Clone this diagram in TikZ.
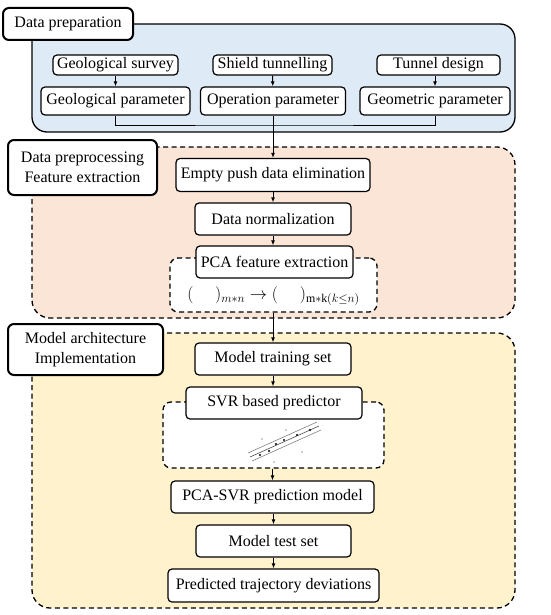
\documentclass[tikz,border=0pt]{standalone}
\usepackage{fontspec}
\setmainfont{Liberation Serif}
\usepackage{amsmath}
\usepackage{amssymb}
\usetikzlibrary{arrows.meta}
\definecolor{prepblue}{HTML}{DEEBF7}
\definecolor{procorange}{HTML}{FBE5D6}
\definecolor{modelyellow}{HTML}{FFF2CC}

\begin{document}
\begin{tikzpicture}[x=1pt,y=-1pt,
    every node/.style={inner sep=0pt,font=\fontsize{16}{20}\selectfont},
    stagebox/.style={draw,fill=white,line width=1.2pt,rounded corners=4pt},
    titlebox/.style={draw,fill=white,line width=2pt,rounded corners=6pt,align=center},
    dashbox/.style={draw,fill=white,line width=1.3pt,dash pattern=on 5pt off 3.5pt,rounded corners=8pt},
    panel/.style={draw,line width=1.3pt,rounded corners=18pt},
    arr/.style={-{Latex[length=5pt,width=4pt]},line width=1pt}]
	\useasboundingbox (0,0) rectangle (550,615);
	% panels
	\draw [panel,fill=prepblue,rounded corners=15pt] (32,24) rectangle (515,132);
	\draw [panel,fill=procorange,dash pattern=on 5pt off 3.5pt] (32,147) rectangle (515,318);
	\draw [panel,fill=modelyellow,dash pattern=on 5pt off 3.5pt] (32,333) rectangle (515,608);
	\node [titlebox,minimum width=130pt,minimum height=32pt] (lprep) at (68,24) {Data preparation};
	\node [titlebox,minimum width=149pt,minimum height=55pt] (lproc) at (82.5,167.5) {Data preprocessing\\Feature extraction};
	\node [titlebox,minimum width=155pt,minimum height=51pt] (lmodel) at (85.5,349.5) {Model architecture\\Implementation};
	% data preparation
	\node [stagebox,minimum width=125pt,minimum height=20pt] (geosur) at (115.5,65) {Geological survey};
	\node [stagebox,minimum width=119pt,minimum height=20pt] (shield) at (272.5,65) {Shield tunnelling};
	\node [stagebox,minimum width=123pt,minimum height=20pt] (tdesign) at (438.5,65) {Tunnel design};
	\node [stagebox,minimum width=149pt,minimum height=28pt] (geopar) at (115.5,101) {Geological parameter};
	\node [stagebox,minimum width=145pt,minimum height=28pt] (oppar) at (273,101) {Operation parameter};
	\node [stagebox,minimum width=150pt,minimum height=28pt] (geompar) at (435,101) {Geometric parameter};
	\coordinate (join) at (273,125);
	\draw [arr] (geosur) -- (geopar);
	\draw [arr] (shield) -- (oppar);
	\draw [arr] (tdesign.south -| geompar.north) -- (geompar);
	\draw [line width=1pt] (geopar.south) |- (join) -| (geompar.south);
	% preprocessing
	\node [stagebox,minimum width=194pt,minimum height=33pt] (empty) at (273,175) {Empty push data elimination};
	\node [stagebox,minimum width=156pt,minimum height=32pt] (norm) at (273,219) {Data normalization};
	\node [dashbox,minimum width=207pt,minimum height=54pt] (pcabox) at (273.5,285) {};
	\node [stagebox,minimum width=157pt,minimum height=32pt] (pca) at (274.5,262) {PCA feature extraction};
	\node [font=\fontsize{17}{20}\selectfont] (pcamap) at (273.5,296) {$(\;\quad)_{m*n}\rightarrow(\;\quad)_{\textnormal{m}*\textnormal{k}(k\le n)}$};
	\draw [arr] (oppar) -- (empty);
	\draw [arr] (empty) -- (norm);
	\draw [arr] (norm) -- (norm |- pca.north);
	% model
	\node [stagebox,minimum width=156pt,minimum height=32pt] (train) at (273,359) {Model training set};
	\node [dashbox,minimum width=221pt,minimum height=66pt] (svrbox) at (273.5,435) {};
	\node [stagebox,minimum width=176pt,minimum height=32pt] (svr) at (274,403) {SVR based predictor};
	\node [stagebox,minimum width=203pt,minimum height=32pt] (pcasvr) at (272.5,497) {PCA-SVR prediction model};
	\node [stagebox,minimum width=155pt,minimum height=32pt] (test) at (273.5,541) {Model test set};
	\node [stagebox,minimum width=211pt,minimum height=33pt] (pred) at (273.5,585.5) {Predicted trajectory deviations};
	\draw [arr] (pcabox.south -| train.north) -- (train);
	\draw [arr] (train) -- (train |- svr.north);
	\draw [arr] (svrbox.south -| pcasvr.north) -- (pcasvr);
	\draw [arr] (pcasvr.south -| test.north) -- (test);
	\draw [arr] (test.south -| pred.north) -- (pred);
	% regression sketch
	\draw [gray,line width=0.6pt] (248,453) -- (317,422);
	\draw [gray!60!black,line width=0.6pt] (250,457) -- (319,426);
	\draw [gray,line width=0.6pt] (252,461) -- (321,430);
	\foreach \px/\py in {260/455,269/451,276/444,284/440,297/435,310/430}
		\fill [black] (\px,\py) circle (1.2pt);
	\foreach \px/\py in {262/439,286/430,302/452,274/462}
		\fill [gray!50] (\px,\py) circle (1.2pt);
\end{tikzpicture}
\end{document}
